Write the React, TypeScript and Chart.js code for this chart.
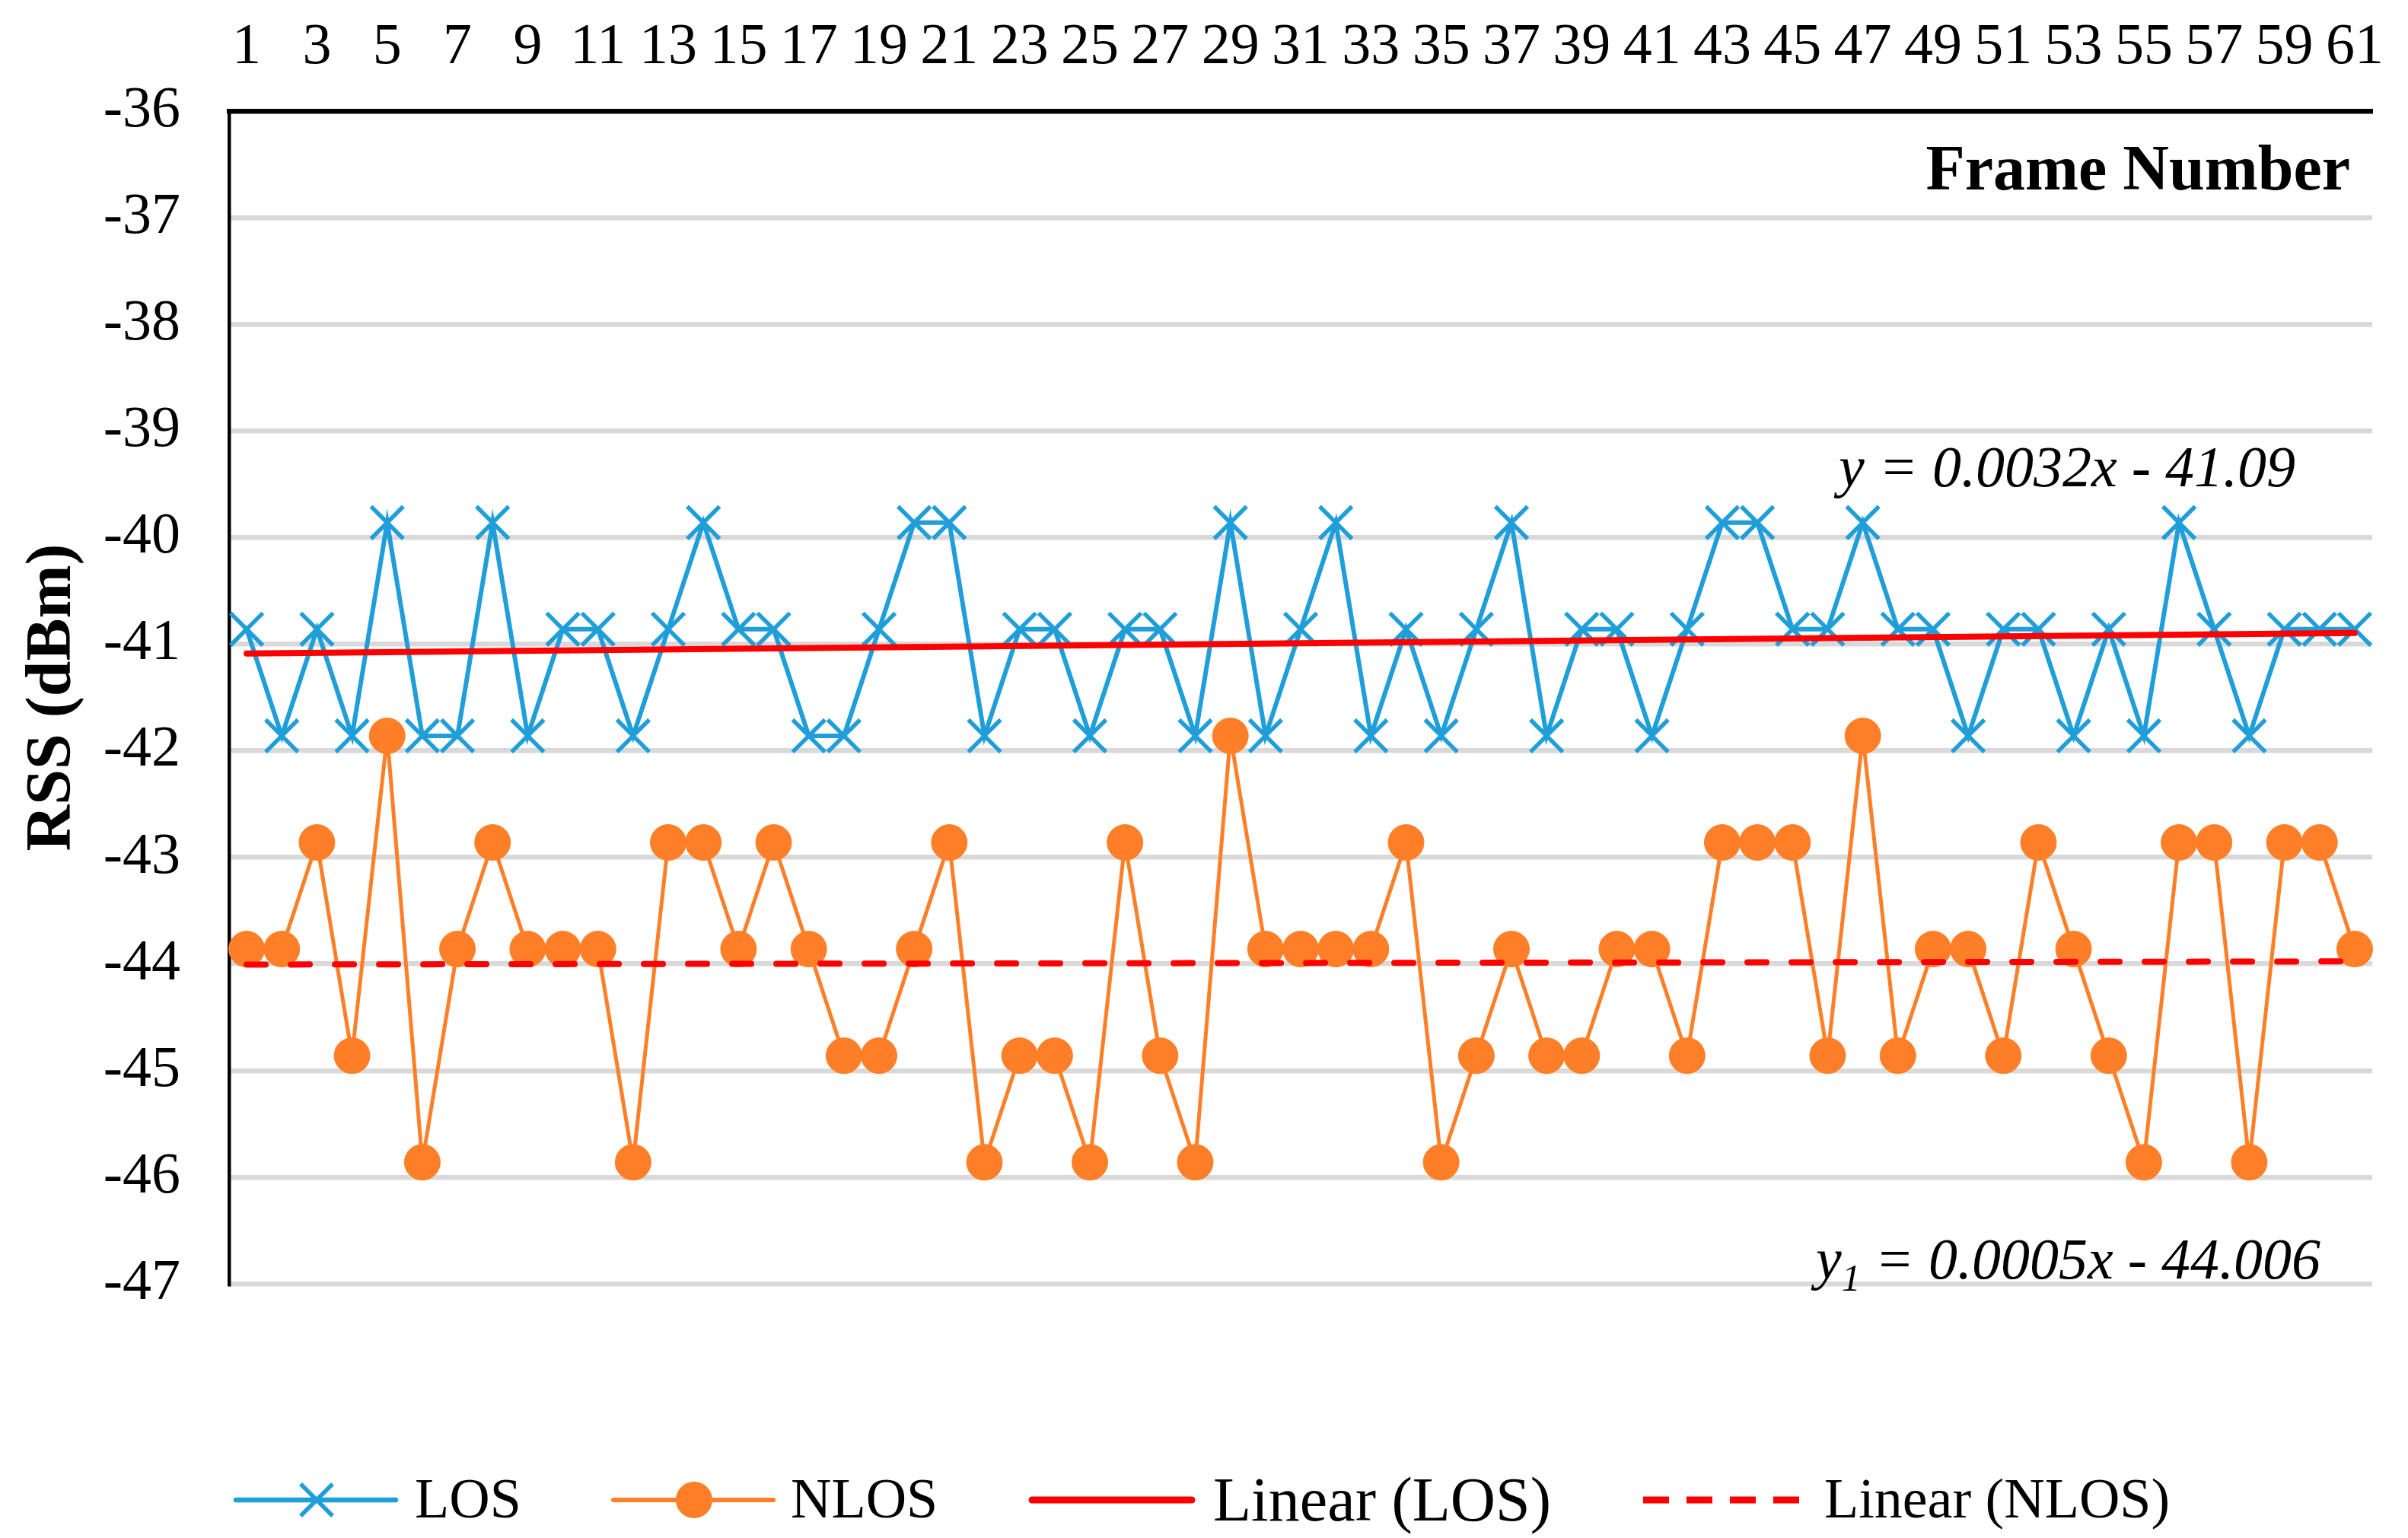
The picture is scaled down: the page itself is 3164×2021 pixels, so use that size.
import React, { useEffect, useRef } from 'react';
import { Chart, registerables } from 'chart.js';

Chart.register(...registerables);

const FONT = "'Liberation Serif', 'Times New Roman', serif";

const frames = [
  1, 2, 3, 4, 5, 6, 7, 8, 9, 10, 11, 12, 13, 14, 15, 16, 17, 18, 19, 20,
  21, 22, 23, 24, 25, 26, 27, 28, 29, 30, 31, 32, 33, 34, 35, 36, 37, 38, 39, 40,
  41, 42, 43, 44, 45, 46, 47, 48, 49, 50, 51, 52, 53, 54, 55, 56, 57, 58, 59, 60, 61,
];

const losRss = [
  -40.86, -41.86, -40.86, -41.86, -39.86, -41.86, -41.86, -39.86, -41.86, -40.86,
  -40.86, -41.86, -40.86, -39.86, -40.86, -40.86, -41.86, -41.86, -40.86, -39.86,
  -39.86, -41.86, -40.86, -40.86, -41.86, -40.86, -40.86, -41.86, -39.86, -41.86,
  -40.86, -39.86, -41.86, -40.86, -41.86, -40.86, -39.86, -41.86, -40.86, -40.86,
  -41.86, -40.86, -39.86, -39.86, -40.86, -40.86, -39.86, -40.86, -40.86, -41.86,
  -40.86, -40.86, -41.86, -40.86, -41.86, -39.86, -40.86, -41.86, -40.86, -40.86,
  -40.86,
];

const nlosRss = [
  -43.86, -43.86, -42.86, -44.86, -41.86, -45.86, -43.86, -42.86, -43.86, -43.86,
  -43.86, -45.86, -42.86, -42.86, -43.86, -42.86, -43.86, -44.86, -44.86, -43.86,
  -42.86, -45.86, -44.86, -44.86, -45.86, -42.86, -44.86, -45.86, -41.86, -43.86,
  -43.86, -43.86, -43.86, -42.86, -45.86, -44.86, -43.86, -44.86, -44.86, -43.86,
  -43.86, -44.86, -42.86, -42.86, -42.86, -44.86, -41.86, -44.86, -43.86, -43.86,
  -44.86, -42.86, -43.86, -44.86, -45.86, -42.86, -42.86, -45.86, -42.86, -42.86,
  -43.86,
];

// Trend line values at the first and last frame
const losTrendEnds = [-41.087, -40.895];
const nlosTrendEnds = [-44.0055, -43.9755];

const yRange = [-47, -36];
const seriesNames = ['LOS', 'NLOS', 'Linear (LOS)', 'Linear (NLOS)'];
const xTitle = 'Frame Number';
const yTitle = 'RSS (dBm)';
const eqLos = 'y = 0.0032x - 41.09';
const eqNlos = ['y', '1', ' = 0.0005x - 44.006'];

const BLUE = '#1f9ed9';
const ORANGE = '#fe7f27';
const RED = '#ff0000';
const GRID = '#d9d9d9';

const overlayPlugin = {
  id: 'overlayText',
  afterDraw(chart: any) {
    const ctx: CanvasRenderingContext2D = chart.ctx;
    const area = chart.chartArea;
    ctx.save();
    ctx.fillStyle = '#000';
    ctx.textBaseline = 'alphabetic';

    // Axis title inside the plot, top right
    ctx.font = `bold 84px ${FONT}`;
    ctx.textAlign = 'right';
    ctx.fillText(xTitle, area.right - 29, area.top + 103);

    // Trend equations
    ctx.textAlign = 'left';
    ctx.font = `italic 76px ${FONT}`;
    ctx.fillText(eqLos, area.left + 2115, area.top + 493);

    let ex = area.left + 2085;
    const ey = area.bottom - 7;
    ctx.font = `italic 76px ${FONT}`;
    ctx.fillText(eqNlos[0], ex, ey);
    ex += ctx.measureText(eqNlos[0]).width;
    ctx.font = `italic 50px ${FONT}`;
    ctx.fillText(eqNlos[1], ex, ey + 16);
    ex += ctx.measureText(eqNlos[1]).width;
    ctx.font = `italic 76px ${FONT}`;
    ctx.fillText(eqNlos[2], ex, ey);

    // Legend
    const ly = 1971;
    const line = (x1: number, x2: number, color: string, w: number, dash?: number[]) => {
      ctx.save();
      ctx.strokeStyle = color;
      ctx.lineWidth = w;
      ctx.lineCap = dash ? 'butt' : 'round';
      ctx.setLineDash(dash || []);
      ctx.beginPath();
      ctx.moveTo(x1, ly);
      ctx.lineTo(x2, ly);
      ctx.stroke();
      ctx.restore();
    };
    // LOS
    line(310, 520, BLUE, 6.5);
    ctx.save();
    ctx.strokeStyle = BLUE;
    ctx.lineWidth = 5.5;
    ctx.beginPath();
    ctx.moveTo(416 - 21, ly - 21);
    ctx.lineTo(416 + 21, ly + 21);
    ctx.moveTo(416 + 21, ly - 21);
    ctx.lineTo(416 - 21, ly + 21);
    ctx.stroke();
    ctx.restore();
    ctx.font = `74px ${FONT}`;
    ctx.fillText(seriesNames[0], 545, 1994);
    // NLOS
    line(806, 1016, ORANGE, 6);
    ctx.save();
    ctx.fillStyle = ORANGE;
    ctx.beginPath();
    ctx.arc(912, ly, 24, 0, Math.PI * 2);
    ctx.fill();
    ctx.restore();
    ctx.fillText(seriesNames[1], 1039, 1994);
    // Linear (LOS)
    line(1356, 1566, RED, 9);
    ctx.font = `82px ${FONT}`;
    ctx.fillText(seriesNames[2], 1594, 1998);
    // Linear (NLOS)
    line(2159, 2365, RED, 9, [34, 23]);
    ctx.font = `74px ${FONT}`;
    ctx.fillText(seriesNames[3], 2397, 1994);

    ctx.restore();
  },
};

export default function App() {
  const canvasRef = useRef<HTMLCanvasElement | null>(null);

  useEffect(() => {
    document.body.style.margin = '0';
    const canvas = canvasRef.current;
    if (!canvas) return;

    const labels = frames.map(String);
    const last = frames.length - 1;

    const chart = new Chart(canvas, {
      type: 'line',
      data: {
        labels,
        datasets: [
          {
            label: seriesNames[2],
            data: [
              { x: labels[0], y: losTrendEnds[0] },
              { x: labels[last], y: losTrendEnds[1] },
            ] as any,
            borderColor: RED,
            backgroundColor: RED,
            borderWidth: 8,
            borderCapStyle: 'round',
            pointRadius: 0,
            fill: false,
            order: 0,
          },
          {
            label: seriesNames[3],
            data: [
              { x: labels[0], y: nlosTrendEnds[0] },
              { x: labels[last], y: nlosTrendEnds[1] },
            ] as any,
            borderColor: RED,
            backgroundColor: RED,
            borderWidth: 8,
            borderDash: [25, 33],
            borderCapStyle: 'round',
            pointRadius: 0,
            fill: false,
            order: 0,
          },
          {
            label: seriesNames[0],
            data: losRss,
            borderColor: BLUE,
            backgroundColor: BLUE,
            borderWidth: 6,
            pointStyle: 'crossRot',
            pointRadius: 30,
            pointBorderWidth: 5.5,
            pointBorderColor: BLUE,
            pointBackgroundColor: BLUE,
            tension: 0,
            fill: false,
            order: 1,
          },
          {
            label: seriesNames[1],
            data: nlosRss,
            borderColor: ORANGE,
            backgroundColor: ORANGE,
            borderWidth: 5,
            pointStyle: 'circle',
            pointRadius: 23.5,
            pointBorderWidth: 1,
            pointBorderColor: ORANGE,
            pointBackgroundColor: ORANGE,
            tension: 0,
            fill: false,
            order: 1,
          },
        ],
      },
      options: {
        animation: false,
        responsive: false,
        events: [],
        layout: { padding: { left: 0, top: 0, right: 47, bottom: 334 } },
        plugins: {
          legend: { display: false },
          tooltip: { enabled: false },
          title: { display: false },
        },
        scales: {
          x: {
            type: 'category',
            position: 'top',
            offset: true,
            grid: { display: false, drawTicks: false },
            border: { display: true, color: '#000', width: 6.5 },
            ticks: {
              autoSkip: false,
              maxRotation: 0,
              minRotation: 0,
              padding: 37,
              color: '#000',
              font: { size: 76, family: FONT },
              callback: (_v: any, i: number) => (i % 2 === 0 ? labels[i] : ''),
            },
            afterFit: (s: any) => {
              s.height = 146;
              s.paddingLeft = 0;
              s.paddingRight = 0;
            },
          },
          y: {
            min: yRange[0],
            max: yRange[1],
            ticks: {
              stepSize: 1,
              padding: 64,
              color: '#000',
              font: { size: 76, family: FONT },
            },
            grid: {
              color: (c: any) => (c.tick && c.tick.value === yRange[1] ? 'rgba(0,0,0,0)' : GRID),
              lineWidth: 6.5,
              drawTicks: false,
            },
            border: { display: true, color: '#000', width: 4.5 },
            title: {
              display: true,
              text: yTitle,
              color: '#000',
              font: { size: 84, weight: 'bold', family: FONT },
              padding: { top: 20, bottom: 0 },
            },
            afterFit: (s: any) => {
              s.width = 301;
            },
          },
        },
      } as any,
      plugins: [overlayPlugin],
    });

    return () => {
      chart.destroy();
    };
  }, []);

  return (
    <div style={{ width: 3164, height: 2021, position: 'relative', background: '#fff' }}>
      <canvas ref={canvasRef} width={3164} height={2021} style={{ display: 'block' }} />
    </div>
  );
}
